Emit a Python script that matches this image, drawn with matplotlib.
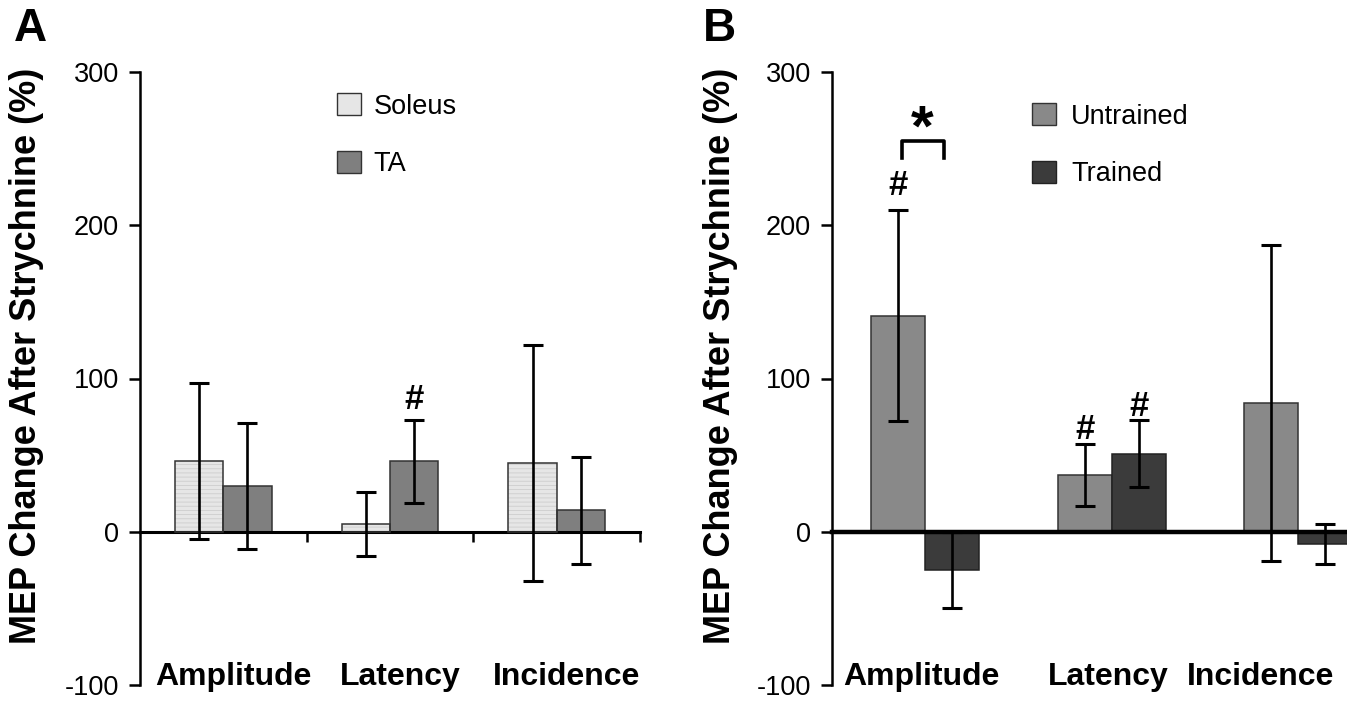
import matplotlib
matplotlib.use("Agg")
import matplotlib.pyplot as plt
from matplotlib.patches import Patch
import numpy as np

plt.rcParams['font.family'] = ['Liberation Sans', 'DejaVu Sans']
plt.rcParams['hatch.linewidth'] = 0.6
plt.rcParams['axes.unicode_minus'] = False

# --- data (MEP change after strychnine, %) ---
categories = ['Amplitude', 'Latency', 'Incidence']

# panel A
soleus_mean = [46, 5, 45]
soleus_err = [51, 21, 77]
ta_mean = [30, 46, 14]
ta_err = [41, 27, 35]

# panel B
untrained_mean = [141, 37, 84]
untrained_err = [69, 20, 103]
trained_mean = [-25, 51, -8]
trained_err = [25, 22, 13]

W, H = 1347, 702
fig = plt.figure(figsize=(W / 100, H / 100), dpi=100)

def px(x, y):
    return x / W, 1 - y / H

bar_w = 0.29
edge = '#333333'

def style_axis(ax, zero_lw):
    ax.set_ylim(-100, 300)
    ax.set_yticks([-100, 0, 100, 200, 300])
    ax.tick_params(axis='y', direction='out', length=8, width=1.8, pad=7, labelsize=19.5)
    for s in ['top', 'right']:
        ax.spines[s].set_visible(False)
    ax.spines['left'].set_linewidth(1.8)
    ax.spines['bottom'].set_position(('data', 0))
    ax.spines['bottom'].set_linewidth(zero_lw)
    ax.set_facecolor('none')

def errs(ax, x, m, e):
    ax.errorbar(x, m, yerr=e, fmt='none', ecolor='black', elinewidth=1.9,
                capsize=7, capthick=2.2, zorder=4)

# ---------- panel A ----------
axA = fig.add_axes([140 / W, 1 - 685 / H, 500 / W, 613 / H])
x = np.arange(len(categories))
xs = x - bar_w / 2
xt = x + bar_w / 2
axA.bar(xs, soleus_mean, bar_w, color='#e6e6e6', edgecolor='#cdcdcd', hatch='----', linewidth=0, zorder=2)
axA.bar(xs, soleus_mean, bar_w, fill=False, edgecolor=edge, linewidth=1.1, zorder=3)
axA.bar(xt, ta_mean, bar_w, color='#7f7f7f', edgecolor=edge, linewidth=1.1, zorder=2)
errs(axA, xs, soleus_mean, soleus_err)
errs(axA, xt, ta_mean, ta_err)
axA.set_xlim(-0.5, 2.5)
axA.set_xticks([0.5, 1.5, 2.5])
axA.set_xticklabels([])
axA.tick_params(axis='x', direction='out', length=7, width=1.8)
style_axis(axA, 2.2)
for i, c in enumerate(categories):
    axA.text(i + 0.06, -100, c, ha='center', va='baseline', fontsize=23, fontweight='bold')
axA.text(xt[1], 86, '#', ha='center', va='center', fontsize=25, fontweight='bold')
axA.legend(handles=[Patch(facecolor='#e6e6e6', edgecolor=edge, label='Soleus'),
                    Patch(facecolor='#7f7f7f', edgecolor=edge, label='TA')],
           loc='upper left', bbox_to_anchor=px(337, 93), bbox_transform=fig.transFigure,
           frameon=False, fontsize=19.5, handlelength=0.9, handleheight=0.9,
           handletextpad=0.45, labelspacing=1.15, borderpad=0, borderaxespad=0)

# ---------- panel B ----------
axB = fig.add_axes([832 / W, 1 - 685 / H, 515 / W, 613 / H])
xu = x - bar_w / 2
xr = x + bar_w / 2
axB.bar(xu, untrained_mean, bar_w, color='#898989', edgecolor=edge, linewidth=1.1, zorder=2)
axB.bar(xr, trained_mean, bar_w, color='#3b3b3b', edgecolor='#222222', linewidth=1.1, zorder=2)
errs(axB, xu, untrained_mean, untrained_err)
errs(axB, xr, trained_mean, trained_err)
axB.set_xlim(-0.5, -0.5 + 515 / 186.5)
axB.set_xticks([])
style_axis(axB, 3.2)
for i, c, dx in zip(x, categories, [-0.02, -0.02, -0.2]):
    axB.text(i + dx, -100, c, ha='center', va='baseline', fontsize=23, fontweight='bold')
axB.text(xu[0], 226, '#', ha='center', va='center', fontsize=25, fontweight='bold')
axB.text(xu[1], 67, '#', ha='center', va='center', fontsize=25, fontweight='bold')
axB.text(xr[1], 82, '#', ha='center', va='center', fontsize=25, fontweight='bold')
axB.plot([-0.127, -0.127, 0.098, 0.098], [244, 255, 255, 244], color='black', lw=2.6, zorder=4)
axB.text(-0.015, 262, '*', ha='center', va='center', fontsize=42, fontweight='bold')
axB.legend(handles=[Patch(facecolor='#898989', edgecolor=edge, label='Untrained'),
                    Patch(facecolor='#3b3b3b', edgecolor='#222222', label='Trained')],
           loc='upper left', bbox_to_anchor=px(1032, 103), bbox_transform=fig.transFigure,
           frameon=False, fontsize=19.5, handlelength=0.9, handleheight=0.9,
           handletextpad=0.55, labelspacing=1.15, borderpad=0, borderaxespad=0)

# axis titles and panel letters
ylab = 'MEP Change After Strychnine (%)'
fig.text(*px(27, 356), ylab, rotation=90, ha='center', va='center', fontsize=26, fontweight='bold')
fig.text(*px(721, 356), ylab, rotation=90, ha='center', va='center', fontsize=26, fontweight='bold')
fig.text(*px(30, 29), 'A', ha='center', va='center', fontsize=33, fontweight='bold')
fig.text(*px(719, 29), 'B', ha='center', va='center', fontsize=33, fontweight='bold')

fig.savefig('out.png', dpi=100)
